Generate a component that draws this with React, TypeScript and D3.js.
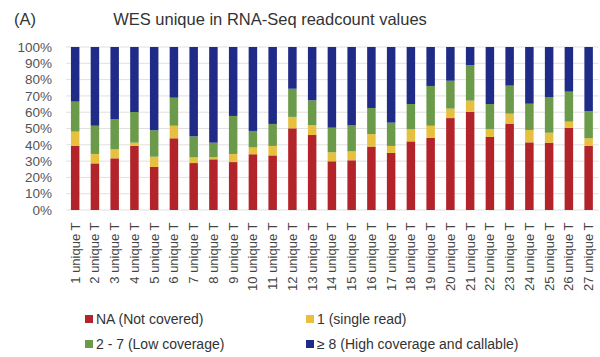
import React from "react";
import * as d3 from "d3";

const categories = Array.from({ length: 27 }, (_, i) => `${i + 1} unique T`);
const naNotCovered = [39.3,28.6,31.7,39.3,26.4,44.0,28.8,31.1,29.4,34.2,33.5,50.1,46.0,29.9,30.5,38.9,35.0,42.1,44.2,56.4,60.3,44.8,53.0,41.5,41.3,50.5,39.3];
const singleRead = [8.8,5.8,5.5,2.0,6.3,7.7,3.5,1.2,5.0,4.2,5.8,7.0,6.1,5.5,5.5,7.7,4.3,7.4,7.5,5.8,6.8,4.9,6.1,7.6,6.1,3.7,4.7];
const lowCoverage = [18.4,17.3,18.4,18.8,16.2,17.2,12.9,9.0,23.3,10.1,13.5,17.3,15.2,15.1,15.9,16.0,14.3,15.5,24.4,17.1,21.7,15.3,17.2,16.1,21.7,18.4,16.7];
const highCoverage = [33.5,48.3,44.4,39.9,51.1,31.1,54.8,58.7,42.3,51.5,47.2,25.6,32.7,49.5,48.1,37.4,46.4,35.0,23.9,20.7,11.2,35.0,23.7,34.8,30.9,27.4,39.3];
const yTicks = [0,10,20,30,40,50,60,70,80,90,100];

const seriesKeys = ["na", "single", "low", "high"];
const seriesLabels = ["NA (Not covered)", "1 (single read)", "2 - 7 (Low coverage)", "\u2265 8 (High coverage and callable)"];
const colors = ["#b3242a", "#e6c03e", "#6b9b4a", "#1f2b86"];

export default function App() {
  const W = 600, H = 357;
  const left = 65.3, right = 598.5, top = 47, bottom = 210;
  const x = d3.scaleBand<string>().domain(categories).range([left, right]).paddingInner(0.57).paddingOuter(0.285);
  const y = d3.scaleLinear().domain([0, 100]).range([bottom, top]);

  const rows = categories.map((c, i) => {
    const tot = naNotCovered[i] + singleRead[i] + lowCoverage[i] + highCoverage[i];
    return {
      cat: c,
      na: (naNotCovered[i] / tot) * 100,
      single: (singleRead[i] / tot) * 100,
      low: (lowCoverage[i] / tot) * 100,
      high: (highCoverage[i] / tot) * 100,
    };
  });
  const stacked = d3.stack<any>().keys(seriesKeys)(rows);

  const font = "Liberation Sans, Arial, Helvetica, sans-serif";

  return (
    <svg width={W} height={H} style={{ position: "absolute", left: 0, top: 0, background: "#fff" }} fontFamily={font}>
      <rect x={0} y={0} width={W} height={H} fill="#fff" />
      <text x={14} y={25} fontSize={16.5} fill="#333">(A)</text>
      <text x={270} y={25} fontSize={16.5} fill="#333" textAnchor="middle">WES unique in RNA-Seq readcount values</text>
      {yTicks.map((t) => (
        <g key={t}>
          <line x1={left + 1} x2={right} y1={y(t)} y2={y(t)} stroke="#e0e0e0" strokeWidth={1} />
          <text x={52} y={y(t)} dy="0.35em" fontSize={13.5} fill="#555" textAnchor="end">{t}%</text>
        </g>
      ))}
      {stacked.map((s, si) => (
        <g key={s.key} fill={colors[si]}>
          {s.map((d: any, i: number) => (
            <rect key={i} x={x(categories[i])} width={x.bandwidth()} y={y(d[1])} height={y(d[0]) - y(d[1])} />
          ))}
        </g>
      ))}
      {categories.map((c) => {
        const cx = (x(c) as number) + x.bandwidth() / 2;
        return (
          <text key={c} transform={`translate(${cx},${222.5}) rotate(-90)`} dy="0.35em" fontSize={13} fill="#444" textAnchor="end">{c}</text>
        );
      })}
      {seriesLabels.map((lab, i) => {
        const col = i % 2;
        const row = Math.floor(i / 2);
        const lx = col === 0 ? 85 : 306;
        const ly = row === 0 ? 319 : 344;
        return (
          <g key={lab}>
            <rect x={lx} y={ly - 4} width={8} height={8} fill={colors[i]} />
            <text x={lx + 11} y={ly} dy="0.35em" fontSize={14} fill="#333">{lab}</text>
          </g>
        );
      })}
    </svg>
  );
}
